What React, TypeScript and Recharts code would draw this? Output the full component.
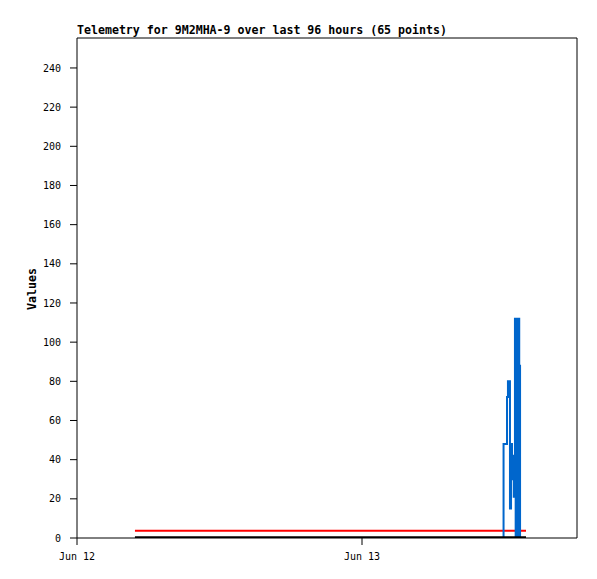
import React from "react";
import { ComposedChart, Line, XAxis, YAxis, ReferenceLine } from "recharts";

// hours since Jun 12 00:00
const times = [
  4.88, 9.5, 14.2, 19.0, 23.6, 28.3, 33.0, 35.92, 36.21, 36.29, 36.46, 36.55, 36.63,
  36.72, 36.78, 36.88, 36.94, 36.99, 37.05, 37.1, 37.16, 37.21, 37.24, 37.31, 37.81,
];
const blueValues = [
  0, 0, 0, 0, 0, 0, 0, 48, 72, 80, 15, 48, 30,
  42, 21, 112, 0, 112, 0, 112, 0, 112, 88, 0, 0,
];
const redValues = times.map(() => 3.7);
const blackValues = times.map(() => 0.4);

const xTicks = [0, 24];
const xTickLabels = ["Jun 12", "Jun 13"];
const yTicks = [0, 20, 40, 60, 80, 100, 120, 140, 160, 180, 200, 220, 240];
const xMax = 42.105;
const yMax = 255.3;

const data = times.map((t, i) => ({
  t,
  blue: blueValues[i],
  red: redValues[i],
  black: blackValues[i],
}));

const mono = "'DejaVu Sans Mono', monospace";
const tickStyle = { fontFamily: mono, fontSize: 10, fill: "#000" };

export default function App() {
  return (
    <div style={{ position: "absolute", left: 0, top: 0, width: 597, height: 579, background: "#fff" }}>
      <ComposedChart
        width={597}
        height={579}
        data={data}
        margin={{ top: 38, right: 20, left: 0, bottom: 0 }}
      >
        <XAxis
          xAxisId="bottom"
          dataKey="t"
          type="number"
          domain={[0, xMax]}
          allowDataOverflow
          ticks={xTicks}
          tickFormatter={(v: number) => xTickLabels[xTicks.indexOf(v)] ?? ""}
          tickSize={7}
          tickMargin={8}
          height={41}
          stroke="#000"
          tick={tickStyle}
          tickLine={{ stroke: "#000" }}
          axisLine={{ stroke: "#000" }}
        />
        <YAxis
          yAxisId="left"
          type="number"
          domain={[0, yMax]}
          allowDataOverflow
          ticks={yTicks}
          interval={0}
          tickSize={7}
          tickMargin={9}
          width={77}
          tick={tickStyle}
          tickLine={{ stroke: "#000" }}
          axisLine={{ stroke: "#000" }}
        />
        <ReferenceLine xAxisId="bottom" yAxisId="left" y={yMax} stroke="#000" strokeWidth={1} ifOverflow="extendDomain" />
        <ReferenceLine xAxisId="bottom" yAxisId="left" x={xMax} stroke="#000" strokeWidth={1} ifOverflow="extendDomain" />
        <Line
          xAxisId="bottom"
          yAxisId="left"
          dataKey="red"
          type="stepAfter"
          stroke="#ff0000"
          strokeWidth={2}
          dot={false}
          isAnimationActive={false}
        />
        <Line
          xAxisId="bottom"
          yAxisId="left"
          dataKey="blue"
          type="stepAfter"
          stroke="#0066cc"
          strokeWidth={2}
          dot={false}
          isAnimationActive={false}
        />
        <Line
          xAxisId="bottom"
          yAxisId="left"
          dataKey="black"
          type="stepAfter"
          stroke="#000000"
          strokeWidth={2}
          dot={false}
          isAnimationActive={false}
        />
      </ComposedChart>
      <svg
        width={597}
        height={579}
        style={{ position: "absolute", left: 0, top: 0, pointerEvents: "none" }}
      >
        <text x={77} y={34} fontFamily={mono} fontWeight="bold" fontSize={11.6} fill="#000">
          Telemetry for 9M2MHA-9 over last 96 hours (65 points)
        </text>
        <text
          x={36}
          y={289}
          transform="rotate(-90 36 289)"
          textAnchor="middle"
          fontFamily={mono}
          fontWeight="bold"
          fontSize={11.6}
          fill="#000"
        >
          Values
        </text>
      </svg>
    </div>
  );
}
